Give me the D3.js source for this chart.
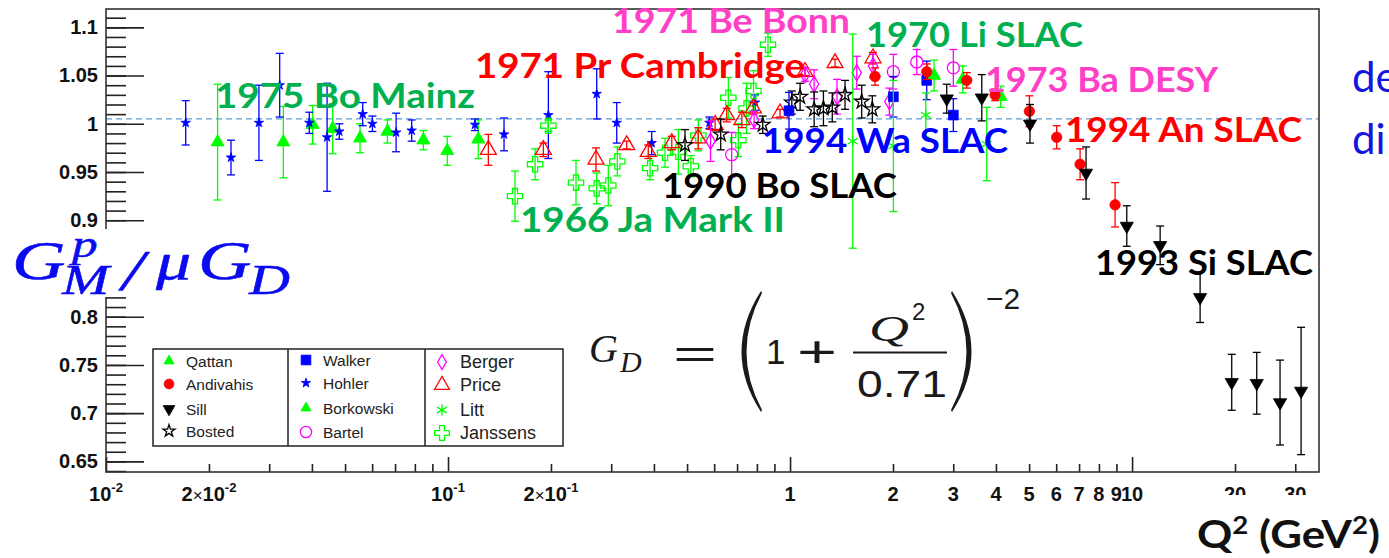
<!DOCTYPE html>
<html>
<head>
<meta charset="utf-8">
<script src="https://cdn.jsdelivr.net/npm/d3@7"></script>
<style>
  body { margin: 0; background: #fff; }
  svg { display: block; }
</style>
</head>
<body>
<div id="chart"></div>
<script>

// ---- DATA : [Q2 (GeV2), GMp/muGD, error] ----
let qattan = [[2.637, 1.050, 0.016], [3.199, 1.046, 0.014], [4.13, 1.028, 0.011]];

let andivahis = [[1.772, 1.049, 0.009], [2.51, 1.054, 0.008], [3.286, 1.045, 0.008], [3.976, 1.030, 0.006],
    [5.01, 1.013, 0.016], [6.02, 0.986, 0.012], [7.047, 0.958, 0.016], [8.92, 0.916, 0.023]];

let sill = [[2.872, 1.026, 0.015], [3.636, 1.027, 0.024], [5.03, 1.000, 0.020], [7.336, 0.949, 0.027],
    [9.65, 0.894, 0.021], [12.08, 0.874, 0.020], [15.81, 0.820, 0.026], [19.56, 0.732, 0.029],
    [23.15, 0.731, 0.032], [27.08, 0.711, 0.044], [31.2, 0.723, 0.066]];

let bosted = [[0.493, 0.978, 0.016], [0.627, 0.989, 0.016], [0.832, 0.999, 0.009], [1.012, 1.022, 0.012],
    [1.07, 1.028, 0.014], [1.176, 1.015, 0.018], [1.252, 1.016, 0.018], [1.329, 1.017, 0.015],
    [1.448, 1.030, 0.015], [1.62, 1.023, 0.017], [1.74, 1.015, 0.014]];

let walker = [[0.993, 1.0135, 0.019], [2.005, 1.028, 0.021], [2.51, 1.045, 0.020], [3.002, 1.009, 0.017]];

let hohler = [[0.0171, 1.001, 0.023], [0.0232, 0.965, 0.018], [0.0280, 1.001, 0.039], [0.0322, 1.040, 0.033],
    [0.0393, 1.001, 0.011], [0.0443, 0.986, 0.056], [0.0481, 0.992, 0.008], [0.0563, 1.010, 0.012],
    [0.0601, 1.000, 0.008], [0.0705, 0.991, 0.020], [0.0783, 0.993, 0.011], [0.1199, 0.999, 0.006],
    [0.1458, 0.989, 0.017], [0.1965, 1.009, 0.045], [0.2721, 1.031, 0.026], [0.3114, 1.001, 0.021],
    [0.394, 0.980, 0.012], [0.581, 1.001, 0.006], [0.790, 1.022, 0.008]];

let borkowski = [[0.0212, 0.981, 0.060], [0.0330, 0.981, 0.037], [0.0402, 0.999, 0.020], [0.0460, 0.995, 0.026],
    [0.0553, 0.985, 0.015], [0.0665, 0.992, 0.012], [0.0847, 0.983, 0.010], [0.0995, 0.972, 0.015],
    [0.1226, 0.984, 0.020]];

let bartel = [[0.675, 0.968, 0.023], [2.005, 1.054, 0.018], [2.347, 1.064, 0.013], [3.002, 1.058, 0.019]];

let berger = [[0.5855, 0.982, 0.021], [0.785, 1.004, 0.009], [1.106, 1.051, 0.007], [1.176, 1.041, 0.015],
    [1.372, 1.028, 0.018], [1.567, 1.053, 0.017], [1.748, 1.060, 0.012], [1.951, 1.023, 0.014]];

let price = [[0.1312, 0.973, 0.016], [0.190, 0.973, 0.007], [0.2708, 0.963, 0.012], [0.333, 0.978, 0.004],
    [0.385, 0.971, 0.007], [0.451, 0.980, 0.007], [0.539, 0.985, 0.011], [0.604, 0.999, 0.006],
    [0.653, 1.009, 0.007], [0.723, 1.004, 0.008], [0.781, 1.016, 0.006], [0.935, 1.011, 0.004],
    [1.106, 1.054, 0.004], [1.354, 1.063, 0.004], [1.748, 1.068, 0.006]];

let litt = [[1.525, 0.982, 0.111], [2.005, 0.977, 0.068], [2.494, 1.009, 0.023], [3.759, 0.979, 0.038]];

let janssens = [[0.157, 0.925, 0.026], [0.1797, 0.958, 0.016], [0.1965, 0.998, 0.006], [0.2367, 0.939, 0.023],
    [0.2721, 0.933, 0.016], [0.2942, 0.936, 0.021], [0.3126, 0.961, 0.015], [0.3897, 0.954, 0.012],
    [0.431, 0.970, 0.015], [0.4714, 0.971, 0.023], [0.5126, 0.956, 0.011], [0.5393, 0.988, 0.016],
    [0.660, 1.027, 0.021], [0.706, 0.983, 0.017], [0.746, 1.016, 0.026], [0.782, 1.034, 0.021],
    [0.862, 1.082, 0.012]];

// tick values
let yMajor = [0.65, 0.7, 0.75, 0.8, 0.85, 0.9, 0.95, 1, 1.05, 1.1];
let xLabelTicks = [0.01, 0.02, 0.1, 0.2, 1, 2, 3, 4, 5, 6, 7, 8, 9, 10, 20, 30];
let xMajor = [0.01, 0.1, 1, 10];

// experiment notes written on the plot
let noteText = ["1975 Bo Mainz", "1971 Be Bonn", "1971 Pr Cambridge", "1970 Li SLAC", "1973 Ba DESY",
    "1994 An SLAC", "1994 Wa SLAC", "1990 Bo SLAC", "1966 Ja Mark II", "1993 Si SLAC"];


// CHART AREA
let W = 1389, H = 558;
let margin = {top: 9, left: 106, right: 70, bottom: 86};
let x0 = margin.left, x1 = W - margin.right, y0 = margin.top, y1 = H - margin.bottom;

let svg = d3.select("#chart").append("svg")
    .attr("width", W)
    .attr("height", H)
    .style("font-family", "'Liberation Sans', Arial, sans-serif");

let x = d3.scaleLog().domain([0.01, 35.2]).range([x0, x1]);
let y = d3.scaleLinear().domain([0.639, 1.119]).range([y1, y0]);

// reference line at 1
svg.append("line")
    .attr("x1", x0).attr("x2", x1)
    .attr("y1", y(1.005)).attr("y2", y(1.005))
    .attr("stroke", "#5b9bd5").attr("stroke-width", 1.2)
    .attr("stroke-dasharray", "6,4");

// AXIS
let yMinor = d3.range(64, 112).map(d => d / 100);

svg.append("g")
    .attr("transform", `translate(${x0},0)`)
    .call(d3.axisLeft(y).tickValues(yMinor).tickSizeInner(-20).tickSizeOuter(0).tickFormat(""))
    .call(g => g.select(".domain").remove())
    .call(g => g.selectAll("line").attr("stroke", "#222").attr("stroke-width", 1.6));

svg.append("g")
    .attr("transform", `translate(${x0},0)`)
    .call(d3.axisLeft(y).tickValues(yMajor).tickSizeInner(-38).tickSizeOuter(0).tickPadding(8)
        .tickFormat(d => String(+d.toFixed(2))))
    .call(g => g.select(".domain").remove())
    .call(g => g.selectAll("line").attr("stroke", "#222").attr("stroke-width", 1.6))
    .call(g => g.selectAll("text").attr("font-size", 20).attr("font-weight", "bold")
        .attr("fill", "#111").attr("font-family", "'Liberation Sans', Arial, sans-serif"));

let xMinor = [];
[0.01, 0.1, 1, 10].forEach(dec => d3.range(1, 10).forEach(m => {
    let v = dec * m;
    if (v <= 35.2 && xMajor.indexOf(v) < 0) xMinor.push(v);
}));

svg.append("g")
    .attr("transform", `translate(0,${y1})`)
    .call(d3.axisBottom(x).tickValues(xMinor).tickSizeInner(-8).tickSizeOuter(0).tickFormat(""))
    .call(g => g.select(".domain").remove())
    .call(g => g.selectAll("line").attr("stroke", "#222").attr("stroke-width", 1.6));

svg.append("g")
    .attr("transform", `translate(0,${y1})`)
    .call(d3.axisBottom(x).tickValues(xMajor).tickSizeInner(-15).tickSizeOuter(0).tickFormat(""))
    .call(g => g.select(".domain").remove())
    .call(g => g.selectAll("line").attr("stroke", "#222").attr("stroke-width", 1.6));

// x tick labels with superscripts
let xLab = svg.append("g").attr("class", "x-labels")
    .attr("font-size", 20).attr("font-weight", "bold").attr("fill", "#111");

xLab.selectAll("text").data(xLabelTicks).join("text")
    .attr("x", d => x(d))
    .attr("y", y1 + 29)
    .attr("text-anchor", "middle")
    .each(function (d) {
        let t = d3.select(this);
        if (d < 1) {
            let exp = Math.floor(Math.log10(d) + 1e-9);
            let mant = Math.round(d / Math.pow(10, exp));
            if (mant > 1) {
                t.append("tspan").text(mant);
                t.append("tspan").attr("font-weight", "normal").attr("font-size", 17).text("\u00d7");
            }
            t.append("tspan").text("10");
            t.append("tspan").attr("font-size", 13).attr("dy", -9).text(exp);
        } else {
            t.text(d);
        }
    });

// cover lower half of the last labels, as in the original slide
svg.append("rect").attr("x", 1150).attr("y", y1 + 23).attr("width", 200).attr("height", 20).attr("fill", "#fff");

// frame
svg.append("rect")
    .attr("x", x0).attr("y", y0)
    .attr("width", x1 - x0).attr("height", y1 - y0)
    .attr("fill", "none").attr("stroke", "#333").attr("stroke-width", 1.6);


// ---- SERIES ----
let series = [
    {name: "Qattan", data: qattan, color: "#00ff00", sym: d3.symbolTriangle, size: 75, fill: true, lsize: 45},
    {name: "Andivahis", data: andivahis, color: "#ff0000", sym: d3.symbolCircle, size: 85, fill: true, lsize: 75},
    {name: "Sill", data: sill, color: "#000", sym: d3.symbolTriangle, size: 75, fill: true, flip: true, lsize: 60},
    {name: "Bosted", data: bosted, color: "#000", sym: d3.symbolStar, size: 65, fill: false, lsize: 45},
    {name: "Walker", data: walker, color: "#0000ff", sym: d3.symbolSquare, size: 95, fill: true, lsize: 95},
    {name: "Hohler", data: hohler, color: "#0000ff", sym: d3.symbolStar, size: 28, fill: true, lsize: 28},
    {name: "Borkowski", data: borkowski, color: "#00ff00", sym: d3.symbolTriangle, size: 75, fill: true, lsize: 45},
    {name: "Bartel", data: bartel, color: "#ff00ff", sym: d3.symbolCircle, size: 115, fill: false, lsize: 100},
    {name: "Berger", data: berger, color: "#ff00ff", sym: d3.symbolDiamond, size: 75, fill: false, lsize: 65},
    {name: "Price", data: price, color: "#ff0000", sym: d3.symbolTriangle, size: 110, fill: false, lsize: 95},
    {name: "Litt", data: litt, color: "#00ff00", sym: d3.symbolAsterisk, size: 90, fill: false, lsize: 90},
    {name: "Janssens", data: janssens, color: "#00ff00", sym: d3.symbolCross, size: 130, fill: false, lsize: 120}
];

let drawOrder = ["Borkowski", "Hohler", "Janssens", "Price", "Berger", "Bartel", "Bosted", "Walker",
    "Litt", "Qattan", "Andivahis", "Sill"];

function markerAttrs(sel, s, size) {
    sel.attr("d", d3.symbol().type(s.sym).size(size))
        .attr("fill", s.fill ? s.color : "none")
        .attr("stroke", s.color)
        .attr("stroke-width", s.fill ? 0.8 : 1.3);
}

let plot = svg.append("g");

drawOrder.forEach(function (nm) {
    let s = series.find(d => d.name === nm);
    let grp = plot.append("g").attr("class", "series-" + nm);

    grp.selectAll(".err").data(s.data).join("line")
        .attr("class", "err")
        .attr("x1", d => x(d[0])).attr("x2", d => x(d[0]))
        .attr("y1", d => y(d[1] - d[2])).attr("y2", d => y(d[1] + d[2]))
        .attr("stroke", s.color).attr("stroke-width", 1.3);

    [-1, 1].forEach(function (k) {
        grp.selectAll(".cap" + k).data(s.data).join("line")
            .attr("class", "cap" + k)
            .attr("x1", d => x(d[0]) - 4).attr("x2", d => x(d[0]) + 4)
            .attr("y1", d => y(d[1] + k * d[2])).attr("y2", d => y(d[1] + k * d[2]))
            .attr("stroke", s.color).attr("stroke-width", 1.3);
    });

    grp.selectAll(".mk").data(s.data).join("path")
        .attr("class", "mk")
        .call(markerAttrs, s, s.size)
        .attr("transform", d => `translate(${x(d[0])},${y(d[1])})` + (s.flip ? " rotate(180)" : ""));
});


// ---- NOTES ----
let noteLayout = [
    {x: 215, y: 108, w: 260, c: "#00b050"},
    {x: 612, y: 33, w: 238, c: "#ff3fc6"},
    {x: 475, y: 78, w: 330, c: "#ff0000"},
    {x: 866, y: 47, w: 217, c: "#00b050"},
    {x: 985, y: 92, w: 233, c: "#ff3fc6"},
    {x: 1065, y: 142, w: 237, c: "#ff0000"},
    {x: 762, y: 153, w: 246, c: "#0000ff"},
    {x: 662, y: 198, w: 235, c: "#000000"},
    {x: 520, y: 232, w: 265, c: "#00b050"},
    {x: 1095, y: 275, w: 218, c: "#000000"}
];

svg.append("g").selectAll("text").data(noteText).join("text")
    .attr("x", (d, i) => noteLayout[i].x)
    .attr("y", (d, i) => noteLayout[i].y)
    .attr("textLength", (d, i) => noteLayout[i].w)
    .attr("lengthAdjust", "spacingAndGlyphs")
    .attr("fill", (d, i) => noteLayout[i].c)
    .attr("font-family", "Lato, 'Open Sans', sans-serif")
    .attr("font-weight", "bold")
    .attr("font-size", 34)
    .text(d => d);


// ---- LEGEND ----
let legendCols = [["Qattan", "Andivahis", "Sill", "Bosted"],
    ["Walker", "Hohler", "Borkowski", "Bartel"],
    ["Berger", "Price", "Litt", "Janssens"]];

let leg = svg.append("g");
leg.append("rect").attr("x", 153).attr("y", 349).attr("width", 410).attr("height", 97)
    .attr("fill", "#fff").attr("stroke", "#222").attr("stroke-width", 1.5);
[288, 425].forEach(lx => leg.append("line").attr("x1", lx).attr("x2", lx).attr("y1", 349).attr("y2", 446)
    .attr("stroke", "#222").attr("stroke-width", 1.5));

let colX = [169, 306, 442], rowY = [[361, 384, 409, 431], [360, 383, 408, 432], [362, 385, 410, 433]];
legendCols.forEach(function (col, ci) {
    col.forEach(function (nm, ri) {
        let s = series.find(d => d.name === nm);
        leg.append("path")
            .call(markerAttrs, s, s.lsize)
            .attr("transform", `translate(${colX[ci]},${rowY[ci][ri]})` + (s.flip ? " rotate(180)" : ""));
        leg.append("text")
            .attr("x", colX[ci] + (ci === 2 ? 18 : 17))
            .attr("y", rowY[ci][ri] + (ci === 2 ? 6 : 5.5))
            .attr("font-size", ci === 2 ? 18 : 15.5)
            .attr("fill", "#222")
            .text(nm);
    });
});


// ---- Y TITLE (covers the axis as in the slide) ----
svg.append("rect").attr("x", 0).attr("y", 229).attr("width", 300).attr("height", 68).attr("fill", "#fff");

let sx = 1.35;
let yt = svg.append("text")
    .attr("transform", `scale(${sx},1)`)
    .attr("fill", "#0a0af0").attr("stroke", "#0a0af0").attr("stroke-width", 0.5)
    .attr("font-family", "'Liberation Serif', 'DejaVu Serif', serif").attr("font-style", "italic");
[
    {t: "G", x: 12, y: 279, s: 55},
    {t: "p", x: 72, y: 257, s: 38},
    {t: "M", x: 62, y: 294, s: 42},
    {t: "/", x: 122, y: 290, s: 58},
    {t: "\u03bc", x: 156, y: 279, s: 52},
    {t: "G", x: 198, y: 279, s: 55},
    {t: "D", x: 249, y: 294, s: 42}
].forEach(p => yt.append("tspan").attr("x", p.x / sx).attr("y", p.y).attr("font-size", p.s).text(p.t));


// ---- DIPOLE FORMULA ----
let fm = svg.append("g").attr("fill", "#1a1a1a");
let serifIt = "'Liberation Serif', 'DejaVu Serif', serif";
let gd = fm.append("text").attr("font-family", serifIt).attr("font-style", "italic");
gd.append("tspan").attr("x", 589).attr("y", 362).attr("font-size", 40).text("G");
gd.append("tspan").attr("x", 620).attr("y", 372).attr("font-size", 30).text("D");
fm.append("text").attr("x", 673).attr("y", 368).attr("font-size", 40).attr("textLength", 44)
    .attr("lengthAdjust", "spacingAndGlyphs").text("=");
fm.append("text").attr("x", 766).attr("y", 364).attr("font-size", 35).text("1");
fm.append("text").attr("x", 797).attr("y", 367).attr("font-size", 44).attr("textLength", 40)
    .attr("lengthAdjust", "spacingAndGlyphs").text("+");
fm.append("text").attr("x", 869).attr("y", 341).attr("font-size", 35).attr("font-family", serifIt)
    .attr("font-style", "italic").attr("textLength", 40).attr("lengthAdjust", "spacingAndGlyphs").text("Q");
fm.append("text").attr("x", 912).attr("y", 320).attr("font-size", 24).text("2");
fm.append("text").attr("x", 857).attr("y", 397).attr("font-size", 37).attr("textLength", 90)
    .attr("lengthAdjust", "spacingAndGlyphs").text("0.71");
fm.append("text").attr("x", 986).attr("y", 309).attr("font-size", 30).text("\u22122");
fm.append("line").attr("x1", 853).attr("x2", 947).attr("y1", 352.5).attr("y2", 352.5)
    .attr("stroke", "#1a1a1a").attr("stroke-width", 1.8);
// stretched delimiters
fm.append("path").attr("d", "M761,291 Q722,352 761,412 L762,410 Q731,352 762,293 Z");
fm.append("path").attr("d", "M952,291 Q991,352 952,412 L951,410 Q982,352 951,293 Z");


// ---- SLIDE TEXT ----
svg.append("text").attr("x", 1197).attr("y", 548).attr("textLength", 183).attr("lengthAdjust", "spacingAndGlyphs")
    .attr("font-family", "Lato, 'Open Sans', sans-serif").attr("font-weight", "bold").attr("font-size", 38)
    .attr("fill", "#111")
    .call(t => {
        t.append("tspan").text("Q");
        t.append("tspan").attr("font-size", 24).attr("dy", -14).text("2");
        t.append("tspan").attr("dy", 14).text(" (GeV");
        t.append("tspan").attr("font-size", 24).attr("dy", -14).text("2");
        t.append("tspan").attr("dy", 14).text(")");
    });

svg.append("text").attr("x", 1352).attr("y", 92).attr("font-family", "Lato, 'Open Sans', sans-serif")
    .attr("font-size", 42).attr("fill", "#1515e0").text("de");
svg.append("text").attr("x", 1352).attr("y", 154).attr("font-family", "Lato, 'Open Sans', sans-serif")
    .attr("font-size", 42).attr("fill", "#1515e0").text("di");

</script>
</body>
</html>
